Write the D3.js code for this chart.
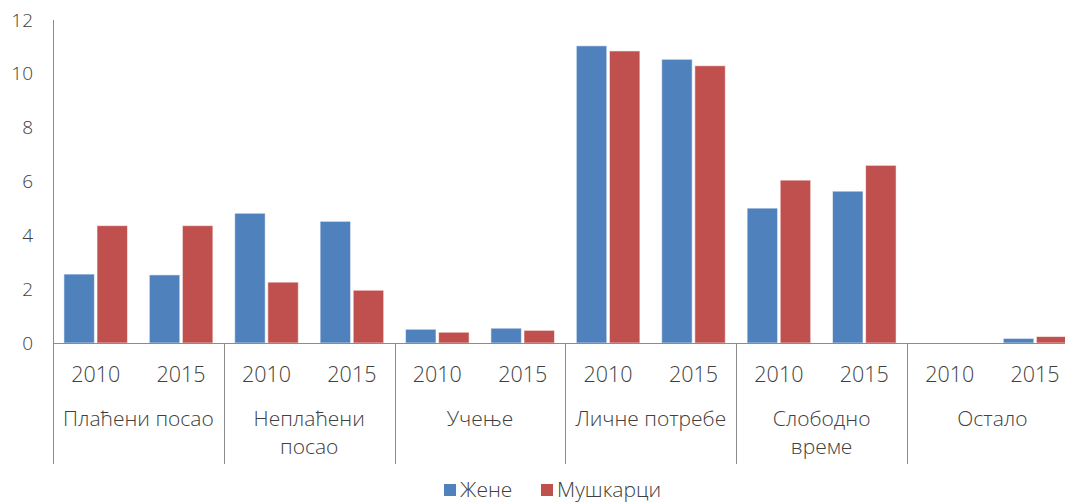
<!DOCTYPE html>
<html>
<head>
<meta charset="utf-8">
<script src="https://cdn.jsdelivr.net/npm/d3@7"></script>
<style>
  html, body { margin: 0; padding: 0; background: #fff; overflow: hidden; }
  svg { display: block; font-family: "Open Sans", "Noto Sans", sans-serif; }
  text { fill: #404040; font-weight: 300; }
</style>
</head>
<body>
<svg id="chart" width="1065" height="504"></svg>
<script>
// Activity groups, each split into two survey years
const categories = ["Плаћени посао", "Неплаћени посао", "Учење", "Личне потребе", "Слободно време", "Остало"];
const categoryLines = [["Плаћени посао"], ["Неплаћени", "посао"], ["Учење"], ["Личне потребе"], ["Слободно", "време"], ["Остало"]];
const years = ["2010", "2015"];
const seriesNames = ["Жене", "Мушкарци"];

// Hours per day, ordered group by group: 2010 then 2015
const zene     = [2.56, 2.53, 4.82, 4.52, 0.51, 0.55, 11.04, 10.54, 5.01, 5.64, 0, 0.17];
const muskarci = [4.36, 4.36, 2.26, 1.96, 0.40, 0.47, 10.85, 10.30, 6.05, 6.60, 0, 0.24];

const yTicks = [0, 2, 4, 6, 8, 10, 12];
const colors = ["#4F81BD", "#C0504D"];

const svg = d3.select("#chart");
const plotLeft = 53, plotTop = 20, plotBottom = 343;
const groupW = 170.8;
const plotRight = plotLeft + groupW * categories.length;

// One slot per (category, year) pair
const slots = [];
categories.forEach((c, ci) => years.forEach((yr, yi) => {
  const i = ci * years.length + yi;
  slots.push({ key: c + "|" + yr, cat: c, year: yr, values: [zene[i], muskarci[i]] });
}));

const x0 = d3.scaleBand().domain(slots.map(d => d.key)).range([plotLeft, plotRight]).padding(0);
const x1 = d3.scaleBand().domain(seriesNames).range([0, x0.bandwidth()])
  .paddingInner(0.08).paddingOuter(0.33);
const y = d3.scaleLinear().domain([0, 12]).range([plotBottom, plotTop]);

// Bars
const slotG = svg.append("g").selectAll("g").data(slots).join("g")
  .attr("transform", d => `translate(${x0(d.key)},0)`);
slotG.selectAll("rect")
  .data(d => d.values.map((v, i) => ({ name: seriesNames[i], value: v, i })))
  .join("rect")
  .filter(d => d.value > 0)
  .attr("x", d => x1(d.name))
  .attr("width", x1.bandwidth())
  .attr("y", d => y(d.value))
  .attr("height", d => y(0) - y(d.value))
  .attr("fill", d => colors[d.i])
  .attr("stroke", "rgba(255,255,255,0.55)")
  .attr("stroke-width", 1);

// Y axis: labels only, plus the vertical axis line
const yAxis = d3.axisLeft(y).tickValues(yTicks).tickSize(0).tickPadding(20);
svg.append("g").attr("transform", `translate(${plotLeft},0)`).call(yAxis)
  .call(g => g.select(".domain").remove())
  .call(g => g.selectAll("text").attr("font-size", 19).attr("fill", "#404040")
    .attr("font-family", "\"Open Sans\", \"Noto Sans\", sans-serif"));

const axisColor = "#8c8c8c";
svg.append("line").attr("x1", plotLeft + 0.5).attr("x2", plotLeft + 0.5)
  .attr("y1", y(12)).attr("y2", 464).attr("stroke", axisColor);
svg.append("line").attr("x1", plotLeft).attr("x2", plotRight)
  .attr("y1", plotBottom + 0.5).attr("y2", plotBottom + 0.5).attr("stroke", axisColor);

// Group separators below the axis
const xg = d3.scaleBand().domain(categories).range([plotLeft, plotRight]).padding(0);
svg.append("g").selectAll("line").data(categories.slice(1)).join("line")
  .attr("x1", d => Math.round(xg(d)) + 0.5).attr("x2", d => Math.round(xg(d)) + 0.5)
  .attr("y1", plotBottom).attr("y2", 464).attr("stroke", axisColor);

// Year labels
svg.append("g").selectAll("text").data(slots).join("text")
  .attr("x", d => x0(d.key) + x0.bandwidth() / 2)
  .attr("y", 382)
  .attr("text-anchor", "middle")
  .attr("font-size", 21.5)
  .text(d => d.year);

// Category labels (multi-line)
const catText = svg.append("g").selectAll("text").data(categories).join("text")
  .attr("text-anchor", "middle")
  .attr("font-size", 21)
  .attr("x", d => xg(d) + xg.bandwidth() / 2)
  .attr("y", 426);
catText.selectAll("tspan").data((d, i) => categoryLines[i]).join("tspan")
  .attr("x", function() { return this.parentNode.getAttribute("x"); })
  .attr("dy", (d, i) => i === 0 ? 0 : 28)
  .text(d => d);

// Legend
const legend = svg.append("g");
const legendX = [444, 541];
seriesNames.forEach((n, i) => {
  legend.append("rect").attr("x", legendX[i]).attr("y", 484).attr("width", 12).attr("height", 12)
    .attr("fill", colors[i]);
  legend.append("text").attr("x", legendX[i] + 16).attr("y", 497)
    .attr("font-size", 21).text(n);
});
</script>
</body>
</html>
